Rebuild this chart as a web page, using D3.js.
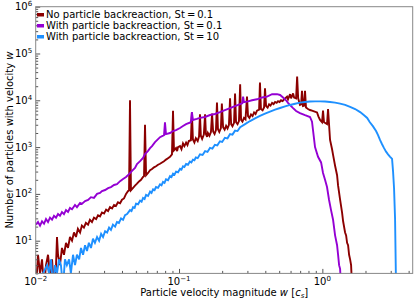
<!DOCTYPE html>
<html><head><meta charset="utf-8">
<script src="https://cdn.jsdelivr.net/npm/d3@7/dist/d3.min.js"></script>
<style>
body{margin:0;background:#fff}
svg{display:block}
text{font-family:"DejaVu Sans",sans-serif;fill:#000}
</style></head>
<body><svg id="chart" width="415" height="301"></svg>
<script>
// ---- data ----
const seriesNames = ["No particle backreaction, St\u2009=\u20090.1", "With particle backreaction, St\u2009=\u20090.1", "With particle backreaction, St\u2009=\u200910"];
const seriesColors = ["#8B0000", "#9400D3", "#1E90FF"];
const xTickValues = [0.01, 0.1, 1];
const xTickExps = ["\u22122", "\u22121", "0"];
const yTickValues = [10, 100, 1000, 10000, 100000, 1000000];
const yTickExps = ["1", "2", "3", "4", "5", "6"];

// [velocity w, number of particles]
const noBackSt01 = [[0.01005,1],[0.01038,5],[0.01072,2],[0.01107,4],[0.01143,1],[0.0118,3],[0.01219,5],[0.01258,2],[0.013,4],[0.01342,1],[0.01386,3],[0.01408,12],[0.01431,5],[0.01477,3],[0.01525,7],[0.01575,5],[0.01627,9],[0.0168,7],[0.01735,12],[0.01792,10],[0.0185,15],[0.0191,12],[0.0197,18],[0.0204,15],[0.021,21],[0.0217,19],[0.0224,24],[0.0232,22],[0.0239,28],[0.0247,25],[0.0255,31],[0.0264,29],[0.0272,35],[0.0281,33],[0.029,40],[0.03,38],[0.031,46],[0.032,43],[0.033,52],[0.0341,49],[0.0352,58],[0.0363,55],[0.0375,66],[0.0388,63],[0.04,75],[0.0413,80],[0.0427,100],[0.0441,115],[0.0448,118],[0.0455,10000],[0.0462,120],[0.0478,135],[0.0493,150],[0.0509,165],[0.0526,185],[0.0543,200],[0.0561,230],[0.057,240],[0.0579,3000],[0.0589,250],[0.0608,280],[0.0628,320],[0.0648,340],[0.0669,370],[0.0691,390],[0.0714,420],[0.0737,440],[0.0761,470],[0.0786,500],[0.0811,540],[0.0838,580],[0.0865,620],[0.0893,700],[0.0908,6000],[0.0922,850],[0.0953,950],[0.097,820],[0.0984,1000],[0.1016,1050],[0.104,900],[0.1066,1200],[0.109,1050],[0.112,1250],[0.1145,1100],[0.117,1350],[0.121,1400],[0.123,5500],[0.125,1450],[0.128,1250],[0.131,1550],[0.135,1350],[0.138,1700],[0.14,5000],[0.142,1750],[0.145,1500],[0.149,1850],[0.152,5000],[0.154,1900],[0.157,1650],[0.159,2000],[0.163,1750],[0.167,2100],[0.17,5200],[0.173,2150],[0.177,1900],[0.181,2300],[0.184,9000],[0.187,2400],[0.191,2100],[0.196,2550],[0.199,8500],[0.203,2650],[0.208,2350],[0.213,2850],[0.218,2500],[0.223,3000],[0.227,11000],[0.231,3100],[0.236,2800],[0.242,3300],[0.246,14000],[0.25,3400],[0.256,3100],[0.262,3600],[0.267,22000],[0.271,3800],[0.277,3500],[0.284,4200],[0.291,3900],[0.298,12000],[0.303,4600],[0.31,4200],[0.318,5000],[0.326,4600],[0.334,5500],[0.342,5100],[0.35,6000],[0.362,6300],[0.367,24000],[0.373,6500],[0.383,6100],[0.392,7000],[0.398,18000],[0.405,7500],[0.415,7000],[0.425,8200],[0.435,7700],[0.446,8800],[0.457,8300],[0.468,9200],[0.48,8800],[0.491,9600],[0.503,9200],[0.515,10000],[0.528,9600],[0.541,10500],[0.567,12000],[0.576,10500],[0.5955,13500],[0.605,11000],[0.625,14000],[0.635,11500],[0.656,11000],[0.667,32000],[0.678,11000],[0.698,8000],[0.711,8200],[0.721,16000],[0.733,7500],[0.745,7600],[0.757,16000],[0.769,7000],[0.794,6500],[0.82,6200],[0.847,6000],[0.875,5800],[0.918,5500],[0.94,4500],[0.964,3800],[0.995,3400],[1.011,6000],[1.027,3400],[1.061,3200],[1.078,3100],[1.096,6500],[1.114,3000],[1.132,1420],[1.169,900],[1.188,680],[1.227,400],[1.267,250],[1.288,150],[1.33,75],[1.373,40],[1.396,26],[1.441,15],[1.465,13],[1.488,9],[1.512,8],[1.537,5],[1.562,4],[1.587,3],[1.613,1]];

const withBackSt01 = [[0.01005,22],[0.01038,25],[0.01072,21],[0.01107,26],[0.01143,23],[0.0118,29],[0.01219,25],[0.01258,31],[0.013,28],[0.01342,34],[0.01386,31],[0.01431,37],[0.01477,34],[0.01525,41],[0.01575,37],[0.01627,45],[0.0168,41],[0.01735,50],[0.01792,47],[0.0188,58],[0.0194,52],[0.0204,64],[0.021,61],[0.0221,70],[0.0232,74],[0.0243,85],[0.0255,82],[0.0268,100],[0.0281,105],[0.029,115],[0.0305,121],[0.032,133],[0.0335,140],[0.0352,155],[0.0369,162],[0.0388,187],[0.0407,208],[0.0427,230],[0.0448,265],[0.047,310],[0.0493,357],[0.0509,435],[0.0535,500],[0.0561,585],[0.0579,710],[0.0608,830],[0.0628,950],[0.0648,1050],[0.068,1280],[0.0714,1480],[0.0737,1630],[0.0786,1800],[0.0798,3400],[0.0811,1900],[0.0865,2000],[0.0908,2200],[0.0953,2300],[0.1016,2560],[0.1066,2820],[0.112,3100],[0.121,3400],[0.123,5600],[0.125,3800],[0.133,4000],[0.14,4200],[0.152,4400],[0.1645,4850],[0.178,5100],[0.193,5600],[0.209,6200],[0.227,6800],[0.246,7500],[0.267,8300],[0.276,8600],[0.28,12000],[0.284,9100],[0.303,9500],[0.323,10000],[0.35,10500],[0.38,11500],[0.411,12000],[0.446,13500],[0.483,13500],[0.507,13000],[0.532,11500],[0.558,10000],[0.576,8800],[0.5955,7900],[0.625,6800],[0.656,5900],[0.698,5300],[0.757,4800],[0.82,4400],[0.847,3500],[0.889,1000],[0.933,620],[0.98,470],[1.011,280],[1.044,200],[1.078,140],[1.114,74],[1.15,45],[1.188,28],[1.227,13],[1.267,8],[1.288,5],[1.309,3],[1.33,2.5],[1.351,1]];

const withBackSt10 = [[0.01005,1],[0.012,3],[0.01239,2],[0.01279,4],[0.01321,1],[0.01363,3],[0.01408,2],[0.01454,4],[0.015,3],[0.0155,1],[0.016,4],[0.0165,3],[0.0171,4],[0.0176,2],[0.01821,5],[0.0188,3],[0.0194,5],[0.0201,4],[0.0207,7],[0.0214,5],[0.0221,8],[0.0228,6],[0.0235,9],[0.0243,7],[0.0251,11],[0.0259,9],[0.0268,12],[0.0277,10],[0.0286,14],[0.0295,12],[0.0305,16],[0.0315,15],[0.0325,19],[0.0335,17],[0.0346,22],[0.0358,20],[0.0369,25],[0.0381,24],[0.0394,30],[0.0407,28],[0.042,35],[0.0434,37],[0.0455,45],[0.0466,43],[0.0478,52],[0.049,50],[0.0501,62],[0.0518,60],[0.0535,72],[0.0548,68],[0.0561,82],[0.0575,78],[0.0589,95],[0.0608,90],[0.0628,112],[0.0643,105],[0.0659,125],[0.0675,120],[0.0691,140],[0.0714,135],[0.0737,160],[0.0755,152],[0.0773,180],[0.0792,172],[0.0811,205],[0.0838,196],[0.0865,240],[0.0886,228],[0.0908,270],[0.093,258],[0.0953,300],[0.0984,290],[0.1016,345],[0.104,330],[0.1066,390],[0.109,375],[0.112,435],[0.1155,420],[0.119,490],[0.122,470],[0.125,540],[0.128,525],[0.131,600],[0.135,580],[0.14,700],[0.146,680],[0.152,820],[0.158,790],[0.1645,960],[0.171,930],[0.178,1120],[0.185,1090],[0.193,1330],[0.2,1290],[0.209,1580],[0.218,1540],[0.227,1900],[0.236,1850],[0.246,2250],[0.256,2200],[0.267,2650],[0.289,3100],[0.313,3600],[0.339,4100],[0.367,4650],[0.398,5200],[0.4315,5750],[0.468,6300],[0.507,6850],[0.5495,7400],[0.5955,7950],[0.6455,8450],[0.698,8900],[0.757,9200],[0.82,9400],[0.889,9500],[0.964,9500],[1.044,9400],[1.132,9200],[1.227,8900],[1.33,8500],[1.441,8000],[1.562,7200],[1.693,6500],[1.835,5600],[1.955,4800],[2.055,4200],[2.145,3400],[2.252,2800],[2.37,2200],[2.447,1800],[2.525,1420],[2.61,1150],[2.695,950],[2.783,800],[2.873,700],[2.97,620],[3.02,590],[3.065,560],[3.115,300],[3.165,130],[3.216,30],[3.268,1]];

const allSeries = [noBackSt01, withBackSt01, withBackSt10];

// ---- layout ----
const svg = d3.select("#chart");
const pL = 35.7, pR = 412.7, pT = 6.7, pB = 273.4;
const x = d3.scaleLog().domain([0.01, 4.27]).range([pL, pR]);
const y = d3.scaleLog().domain([2, 1e6]).range([pB, pT]);

svg.append("defs").append("clipPath").attr("id","clip")
  .append("rect").attr("x",pL).attr("y",pT).attr("width",pR-pL).attr("height",pB-pT);

const line = d3.line().x(d=>x(d[0])).y(d=>y(d[1])).curve(d3.curveLinear);
const g = svg.append("g").attr("clip-path","url(#clip)");
allSeries.forEach((s,i)=>{
  g.append("path").attr("d", line(s)).attr("fill","none")
    .attr("stroke", seriesColors[i]).attr("stroke-width",1.9).attr("stroke-linejoin","miter").attr("stroke-miterlimit",3);
});

// minor tick positions
const xMinor = [], yMinor = [];
[0.01,0.1,1].forEach(d=>{ for(let k=2;k<10;k++){ const v=d*k; if(v<=4.27) xMinor.push(v);} });
[1,10,100,1000,10000,100000].forEach(d=>{ for(let k=2;k<10;k++){ const v=d*k; if(v>=2 && v<=1e6) yMinor.push(v);} });

const axColor = "#555";
function styleAxis(sel){ sel.select(".domain").remove(); sel.selectAll(".tick line").attr("stroke",axColor); sel.selectAll(".tick text").remove(); }
svg.append("g").attr("transform",`translate(0,${pB})`).call(d3.axisBottom(x).tickValues(xTickValues).tickSize(-4.5)).call(styleAxis);
svg.append("g").attr("transform",`translate(0,${pB})`).call(d3.axisBottom(x).tickValues(xMinor).tickSize(-2.5)).call(styleAxis);
svg.append("g").attr("transform",`translate(${pL},0)`).call(d3.axisLeft(y).tickValues(yTickValues).tickSize(-4.5)).call(styleAxis);
svg.append("g").attr("transform",`translate(${pL},0)`).call(d3.axisLeft(y).tickValues(yMinor).tickSize(-2.5)).call(styleAxis);

// frame
svg.append("rect").attr("x",pL).attr("y",pT).attr("width",pR-pL).attr("height",pB-pT)
  .attr("fill","none").attr("stroke","#888").attr("stroke-width",1);

// tick labels
xTickValues.forEach((v,i)=>{
  const t = svg.append("text").attr("x",x(v)).attr("y",pB+12).attr("text-anchor","middle").attr("font-size",10);
  t.append("tspan").text("10");
  t.append("tspan").attr("font-size",7).attr("dy",-4).text(xTickExps[i]);
});
yTickValues.forEach((v,i)=>{
  const t = svg.append("text").attr("x",pL-3.5).attr("y",y(v)+3.6).attr("text-anchor","end").attr("font-size",10);
  t.append("tspan").text("10");
  t.append("tspan").attr("font-size",7).attr("dy",-4).text(yTickExps[i]);
});

// axis labels
const xl = svg.append("text").attr("x",(pL+pR)/2).attr("y",296).attr("text-anchor","middle").attr("font-size",10);
xl.append("tspan").text("Particle velocity magnitude ");
xl.append("tspan").attr("font-style","italic").text("w");
xl.append("tspan").text(" [");
xl.append("tspan").attr("font-style","italic").text("c");
xl.append("tspan").attr("font-style","italic").attr("font-size",7).attr("dy",2).text("s");
xl.append("tspan").attr("dy",-2).text("]");

const yl = svg.append("text").attr("transform",`translate(13,${(pT+pB)/2}) rotate(-90)`).attr("text-anchor","middle").attr("font-size",10);
yl.append("tspan").text("Number of particles with velocity ");
yl.append("tspan").attr("font-style","italic").text("w");

// legend
seriesNames.forEach((n,i)=>{
  const cy = 14.5 + i*11;
  svg.append("rect").attr("x",37).attr("y",cy-1.5).attr("width",7).attr("height",3.5).attr("fill",seriesColors[i]);
  svg.append("text").attr("x",46).attr("y",cy+3.6).attr("font-size",10).text(n);
});
</script></body></html>
